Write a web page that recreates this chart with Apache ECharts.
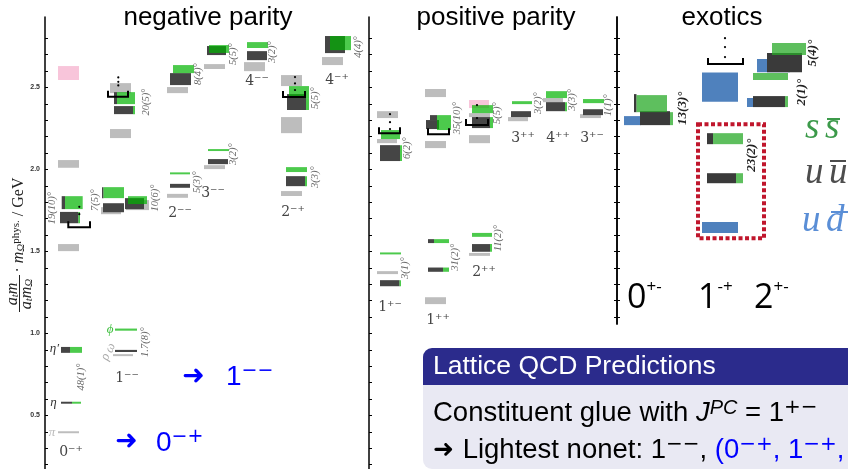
<!DOCTYPE html>
<html><head><meta charset="utf-8">
<script src="https://cdn.jsdelivr.net/npm/echarts@6/dist/echarts.min.js"></script>
<style>html,body{margin:0;padding:0;background:#fff}#c{width:848px;height:469px}</style>
</head><body><div id="c"></div>
<script>
// ---------------- DATA (x in column-slot units, y in GeV) ----------------
const yTickValues = [0.2,0.3,0.4,0.5,0.6,0.7,0.8,0.9,1.0,1.1,1.2,1.3,1.4,1.5,1.6,1.7,1.8,1.9,2.0,2.1,2.2,2.3,2.4,2.5,2.6,2.7,2.8];
const yLabelValues = [0.5,1.0,1.5,2.0,2.5];
const panelTitles = ['negative parity','positive parity','exotics'];

// boxes: [xStart, xEnd, massLow, massHigh]
const expBoxes = [
  [5.8,7.9,2.010,2.057],[5.8,7.9,1.502,1.545],[5.8,7.9,0.392,0.404],[11.3,13.3,0.862,0.874],
  [11.0,13.1,2.465,2.526],[11.0,13.1,2.191,2.246],[10.1,12.1,1.727,1.770],[12.6,14.9,1.752,1.813],
  [16.7,18.8,2.465,2.502],[16.7,18.8,1.827,1.851],[20.4,22.5,2.612,2.642],[20.4,22.5,2.002,2.026],
  [24.4,26.5,2.599,2.654],[28.1,30.2,2.508,2.575],[28.1,30.2,2.221,2.319],[28.1,30.2,1.838,1.868],
  [32.2,34.3,2.636,2.685],
  [37.7,39.8,2.313,2.355],[37.7,39.7,2.160,2.185],[37.7,39.8,1.362,1.380],
  [42.5,44.6,2.441,2.490],[42.5,44.6,2.130,2.173],[42.5,44.6,1.179,1.221],
  [46.9,49.0,2.319,2.343],[46.9,49.0,2.160,2.209],[46.9,49.0,1.473,1.491],
  [50.8,52.8,2.294,2.319],[54.3,56.3,2.410,2.435],[58.0,60.1,2.313,2.337]
];
const pinkBoxes = [[5.8,7.9,2.545,2.630],[46.9,48.9,2.374,2.423]];
const udBoxes = [
  [62.4,64.1,2.270,2.325],[70.2,73.8,2.412,2.591],[75.7,79.0,2.593,2.673],[74.7,78.0,2.380,2.435],[70.2,73.8,1.612,1.679]
];
const uuBoxes = [
  [6.1,7.0,0.882,0.918],[6.1,7.2,0.572,0.584],[11.5,13.7,0.887,0.900],
  [6.17,6.5,1.758,1.837],[6.0,7.83,1.672,1.741],
  [11.4,11.7,2.398,2.471],[11.4,13.3,2.337,2.386],
  [10.2,10.35,1.825,1.892],[10.3,12.4,1.739,1.794],[12.5,14.4,1.758,1.825],
  [17.0,19.1,2.514,2.587],[17.0,19.0,1.888,1.912],
  [20.7,22.6,2.697,2.752],[20.8,22.8,2.032,2.063],
  [24.7,26.7,2.666,2.721],
  [28.7,30.6,2.362,2.459],[28.6,30.5,1.898,1.959],
  [32.5,34.5,2.709,2.813],
  [38.0,40.0,2.051,2.148],[38.0,39.95,1.288,1.325],
  [42.6,43.9,2.246,2.301],[43.0,43.7,2.301,2.331],[42.8,43.4,1.551,1.575],[42.8,44.3,1.376,1.402],
  [47.2,49.0,2.252,2.319],[47.2,49.0,1.498,1.545],
  [51.1,53.1,2.319,2.355],[54.6,56.5,2.355,2.410],[58.3,60.3,2.331,2.367],
  [63.4,63.65,2.349,2.459],[64.0,67.0,2.270,2.355],[76.7,80.2,2.593,2.709],[75.3,78.5,2.380,2.447],
  [70.7,71.3,2.154,2.221],[70.7,73.6,1.916,1.977]
];
const ssBoxes = [
  [7.0,8.2,0.882,0.918],[7.2,8.1,0.572,0.584],[11.5,13.7,1.017,1.030],
  [6.5,8.27,1.758,1.837],[7.83,8.0,1.672,1.741],
  [11.7,13.5,2.398,2.471],[13.3,13.5,2.337,2.386],
  [10.35,12.4,1.825,1.892],[12.8,14.7,1.789,1.837],
  [17.3,19.4,2.587,2.636],[17.0,19.0,1.970,1.982],
  [20.9,22.9,2.710,2.758],[20.8,22.9,2.112,2.124],
  [24.7,26.8,2.740,2.776],
  [28.9,30.9,2.435,2.508],[30.6,30.9,2.362,2.435],[28.6,30.7,1.984,2.014],[30.5,30.7,1.898,1.959],
  [33.0,35.1,2.727,2.813],
  [38.1,40.0,2.185,2.240],[40.0,40.2,2.051,2.148],[38.0,40.1,1.482,1.494],[39.95,40.1,1.288,1.325],
  [43.7,45.1,2.240,2.331],[43.4,44.9,1.551,1.575],[44.3,44.9,1.376,1.402],
  [47.2,49.3,2.343,2.392],[49.0,49.3,2.252,2.319],[47.2,49.2,1.589,1.613],[49.0,49.2,1.498,1.545],
  [51.2,53.2,2.398,2.416],[54.6,56.7,2.435,2.477],[56.5,56.7,2.355,2.410],[58.3,60.4,2.404,2.429],
  [63.65,66.7,2.349,2.453],[67.0,67.3,2.270,2.349],[77.2,80.6,2.697,2.770],[75.3,78.8,2.545,2.587],
  [78.5,78.8,2.380,2.447],[71.3,74.3,2.154,2.221],[73.6,74.3,1.916,1.977]
];
// brackets: [xStart, xEnd, mass]
const brackets = [[6.83,9.0,1.648],[10.8,12.8,2.443],[28.3,30.5,2.441],[37.9,40.0,2.221],[42.8,44.9,2.215],[46.6,48.8,2.270],[70.8,74.3,2.642]];
const bracketDots = [
  [7.93,1.772],[7.93,1.727],
  [11.83,2.561],[11.83,2.534],[11.83,2.512],
  [29.5,2.563],[29.5,2.524],[29.5,2.484],
  [39.0,2.337],[39.0,2.288],[39.0,2.246],
  [47.7,2.392],[47.7,2.313],
  [72.5,2.800],[72.5,2.746],[72.5,2.685]
];
const highlightBox = [[69.8,76.4,1.581,2.276]];
// mixing-angle labels
const angleLabelPos = [
  [8.1,0.734],[14.5,0.947],[5.2,1.764],[9.5,1.813],[15.5,1.825],[14.6,2.410],[19.8,2.581],[19.75,1.923],
  [23.3,2.703],[23.3,2.093],[27.2,2.715],[31.5,2.435],[31.5,1.953],[35.8,2.746],
  [40.7,2.130],[40.5,1.398],[45.7,2.313],[45.5,1.465],[49.7,2.343],[49.8,1.581],[53.8,2.404],[57.2,2.423],[60.8,2.392],
  [68.3,2.373],[80.2,2.471],[81.3,2.709],[75.2,2.087]
];
const angleLabelText = [
  '48(1)°','1.7(8)°','19(10)°','7(5)°','10(6)°','20(5)°','8(4)°','5(3)°',
  '5(5)°','3(2)°','3(2)°','5(5)°','3(3)°','4(4)°',
  '6(2)°','3(1)°','35(10)°','31(2)°','5(5)°','11(2)°','3(2)°','3(3)°','1(1)°',
  '13(3)°','2(1)°','5(4)°','23(2)°'
];
// J^PC column labels
const jpcLabelPos = [[7.1,0.277],[12.7,0.728],[18.0,1.734],[21.3,1.856],[25.7,2.538],[29.3,1.740],[33.7,2.545],
  [39.0,1.160],[43.8,1.081],[48.4,1.374],[52.3,2.191],[55.8,2.191],[59.2,2.191]];
const jpcLabelText = ['0⁻⁺','1⁻⁻','2⁻⁻','3⁻⁻','4⁻⁻','2⁻⁺','4⁻⁺','1⁺⁻','1⁺⁺','2⁺⁺','3⁺⁺','4⁺⁺','3⁺⁻'];
// physical particle names
const particlePos = [[5.45,0.906],[5.35,0.578],[5.2,0.396],[11.0,1.022],[11.05,0.912],[10.55,0.858]];
const particleText = ['η′','η','π','ϕ','ω','ρ'];
const particleColor = ['#333','#333','#bbb','#3fbf3f','#aaa','#aaa'];

// ---------------- CHART ----------------
const Y_MIN = 0.174, Y_MAX = 2.929, Y_MIN_EXO = 1.058;
const panelX = [[4.5,36.9],[36.9,61.7],[61.7,84.8]];
function panelOf(x){ return x < 36.9 ? 0 : (x < 61.7 ? 1 : 2); }
const yAxisOfPanel = [0,1,2];

const chart = echarts.init(document.getElementById('c'), null, {renderer:'canvas'});

function splitByPanel(arr){
  const out=[[],[],[]];
  arr.forEach((d,i)=>out[panelOf(d[0])].push(d.concat([i])));
  return out;
}
const series = [];
function addBoxes(arr, colors){
  splitByPanel(arr).forEach((d,p)=>{
    if(!d.length) return;
    const col = colors[p];
    series.push({type:'custom', xAxisIndex:p, yAxisIndex:yAxisOfPanel[p], data:d, silent:true,
      renderItem:(params,api)=>{
        const a = api.coord([api.value(0), api.value(3)]);
        const b = api.coord([api.value(1), api.value(2)]);
        return {type:'rect', shape:{x:a[0], y:a[1], width:b[0]-a[0], height:Math.max(b[1]-a[1],1.5)}, style:{fill:col}};
      }});
  });
}
addBoxes(expBoxes, ['#bdbdbd','#bdbdbd','#bdbdbd']);
addBoxes(pinkBoxes, ['#f8c5da','#f8c5da','#f8c5da']);
addBoxes(udBoxes, ['#4f81bd','#4f81bd','#4f81bd']);
addBoxes(uuBoxes, ['#454545','#454545','#3a3a3a']);
addBoxes(ssBoxes, ['rgba(0,180,0,0.7)','rgba(0,180,0,0.7)','rgba(40,170,40,0.75)']);

splitByPanel(brackets).forEach((d,p)=>{
  if(!d.length) return;
  series.push({type:'custom', xAxisIndex:p, yAxisIndex:yAxisOfPanel[p], data:d, silent:true,
    renderItem:(params,api)=>{
      const a = api.coord([api.value(0), api.value(2)]);
      const b = api.coord([api.value(1), api.value(2)]);
      const h = 6;
      return {type:'polyline', shape:{points:[[a[0],a[1]-h],[a[0],a[1]],[b[0],b[1]],[b[0],b[1]-h]]}, style:{stroke:'#000', lineWidth:2, fill:null}};
    }});
});
splitByPanel(bracketDots).forEach((d,p)=>{
  if(!d.length) return;
  series.push({type:'custom', xAxisIndex:p, yAxisIndex:yAxisOfPanel[p], data:d, silent:true,
    renderItem:(params,api)=>{
      const a = api.coord([api.value(0), api.value(1)]);
      return {type:'circle', shape:{cx:a[0], cy:a[1], r:1.1}, style:{fill:'#000'}};
    }});
});
series.push({type:'custom', xAxisIndex:2, yAxisIndex:2, data:highlightBox, silent:true,
  renderItem:(params,api)=>{
    const a = api.coord([api.value(0), api.value(3)]);
    const b = api.coord([api.value(1), api.value(2)]);
    return {type:'rect', shape:{x:a[0], y:a[1], width:b[0]-a[0], height:b[1]-a[1]}, style:{fill:null, stroke:'#c0162c', lineWidth:4, lineDash:[4,2.5]}};
  }});

function addTexts(pos, texts, styler){
  const out=[[],[],[]];
  pos.forEach((d,i)=>out[panelOf(d[0])].push([d[0],d[1],i]));
  out.forEach((d,p)=>{
    if(!d.length) return;
    series.push({type:'custom', xAxisIndex:p, yAxisIndex:yAxisOfPanel[p], data:d, silent:true, z:5,
      renderItem:(params,api)=>{
        const i = api.value(2);
        const a = api.coord([api.value(0), api.value(1)]);
        const st = styler(p,i);
        return {type:'text', x:a[0], y:a[1], rotation:st.rotation||0,
          style:Object.assign({text:texts[i], align:'center', verticalAlign:'middle', textAlign:'center', textVerticalAlign:'middle'}, st.style)};
      }});
  });
}
addTexts(angleLabelPos, angleLabelText, (p,i)=>({rotation:Math.PI/2,
  style: p===2 ? {font:'italic bold 13px "Liberation Serif"', fill:'#222'} : {font:'italic 10.5px "Liberation Serif"', fill:'#6a6a6a'}}));
addTexts(jpcLabelPos, jpcLabelText, (p,i)=>({style:{font:'14px "DejaVu Serif"', fill:'#444'}}));
addTexts(particlePos, particleText, (p,i)=>({rotation: (i>=4)? Math.PI/2.6 : 0, style:{font:'italic 13px "Liberation Serif"', fill:particleColor[i]}}));

function yAxisBase(grid, min, ticks, opt){
  return Object.assign({type:'value', gridIndex:grid, min:min, max:Y_MAX, position:'left',
    axisLine:{show:true, onZero:false, lineStyle:{color:'#000', width:1.5}},
    axisTick:{show:true, inside:true, length:3, customValues:ticks, lineStyle:{color:'#000', width:1}},
    axisLabel:{show:false}, splitLine:{show:false}}, opt||{});
}
const option = {
  animation:false,
  backgroundColor:'#fff',
  grid:[
    {left:45, top:17, width:324, height:452},
    {left:369, top:17, width:248, height:452},
    {left:617, top:17, width:231, height:307}
  ],
  xAxis: panelX.map((r,i)=>({type:'value', gridIndex:i, min:r[0], max:r[1], show:false})),
  yAxis:[
    yAxisBase(0, Y_MIN, yTickValues, {axisLabel:{show:true, customValues:yLabelValues, margin:5,
      formatter:v=>v.toFixed(1), fontSize:7, fontWeight:'bold', color:'#333', fontFamily:'Liberation Sans'}}),
    yAxisBase(1, Y_MIN, yTickValues),
    yAxisBase(2, Y_MIN_EXO, yTickValues.filter(v=>v>=1.1)),
    yAxisBase(2, Y_MIN_EXO, yTickValues.filter(v=>v>=1.1), {axisTick:{show:true, inside:false, length:3, customValues:yTickValues.filter(v=>v>=1.1), lineStyle:{color:'#000'}}})
  ],
  series:series,
  graphic:[]
};

const G = option.graphic;
function R(size, family, color, extra){ return Object.assign({fontSize:size, fontFamily:family, fill:color, color:color}, extra||{}); }
// panel titles
[[208,'negative parity'],[496,'positive parity'],[722,'exotics']].forEach((t,i)=>{
  G.push({type:'text', x:t[0], y:18, style:{text:panelTitles[i], font:'26px "Liberation Sans"', fill:'#000', align:'center', verticalAlign:'middle', textAlign:'center', textVerticalAlign:'middle'}});
});
// axis name
const SERIF='Liberation Serif';
G.push({type:'text', x:12.5, y:294, rotation:Math.PI/2, style:{text:'{i|a}{s|t}{i|m}', align:'center', verticalAlign:'middle',
  rich:{i:R(16,SERIF,'#222',{fontStyle:'italic'}), s:R(11,SERIF,'#222',{fontStyle:'italic', verticalAlign:'bottom'})}}});
G.push({type:'line', shape:{x1:19.5, y1:275, x2:19.5, y2:312}, style:{stroke:'#222', lineWidth:1}});
G.push({type:'text', x:26.5, y:294, rotation:Math.PI/2, style:{text:'{i|a}{s|t}{i|m}{s|Ω}', align:'center', verticalAlign:'middle',
  rich:{i:R(16,SERIF,'#222',{fontStyle:'italic'}), s:R(11,SERIF,'#222',{fontStyle:'italic', verticalAlign:'bottom'})}}});
G.push({type:'text', x:19, y:225, rotation:Math.PI/2, style:{text:'{n|· }{i|m}{s|Ω}{p|phys.}{n| / GeV}', align:'center', verticalAlign:'middle',
  rich:{n:R(16,SERIF,'#222'), i:R(16,SERIF,'#222',{fontStyle:'italic'}),
        s:R(11,SERIF,'#222',{fontStyle:'italic', verticalAlign:'bottom'}),
        p:R(11,SERIF,'#222',{verticalAlign:'top'})}}});
// blue annotations
G.push({type:'text', x:182, y:377, style:{text:'➜', font:'bold 27px "DejaVu Sans"', fill:'#0000ff', verticalAlign:'middle'}});
G.push({type:'text', x:226, y:377, style:{text:'{d|1}{s|−−}', verticalAlign:'middle',
  rich:{d:R(28,'Liberation Sans','#0000ff',{lineHeight:30}), s:R(19,'DejaVu Sans','#0000ff',{verticalAlign:'top', lineHeight:14})}}});
G.push({type:'text', x:115, y:442, style:{text:'➜', font:'bold 27px "DejaVu Sans"', fill:'#0000ff', verticalAlign:'middle'}});
G.push({type:'text', x:156, y:443, style:{text:'{d|0}{s|−+}', verticalAlign:'middle',
  rich:{d:R(28,'Liberation Sans','#0000ff',{lineHeight:30}), s:R(19,'DejaVu Sans','#0000ff',{verticalAlign:'top', lineHeight:14})}}});
// exotic JPC big labels
[[627,'0','+-'],[698,'1','-+'],[754,'2','+-']].forEach(t=>{
  G.push({type:'text', x:t[0], y:298, style:{text:'{d|'+t[1]+'}{s|'+t[2]+'}', verticalAlign:'middle',
    rich:{d:R(34,'Open Sans','#000',{lineHeight:38}), s:R(17,'Open Sans','#000',{verticalAlign:'top', lineHeight:18})}}});
});
// flavour legend
const legendGlyphs = [[805,128,'s','#3c9a4a'],[825,128,'s','#3c9a4a'],[805,173,'u','#4d4d4d'],[829,173,'u','#4d4d4d'],[802,221,'u','#5a8ed6'],[826,221,'d','#5a8ed6']];
legendGlyphs.forEach(g=>G.push({type:'text', x:g[0], y:g[1], style:{text:g[2], font:'italic 37px "Liberation Serif"', fill:g[3], verticalAlign:'middle'}}));
[[827,840,119,'#3c9a4a'],[830,846,161,'#4d4d4d'],[831,848,212,'#5a8ed6']].forEach(b=>G.push({type:'line', shape:{x1:b[0],y1:b[2],x2:b[1],y2:b[2]}, style:{stroke:b[3], lineWidth:2}}));
// beamer block
G.push({type:'rect', shape:{x:423, y:348, width:440, height:37, r:[9,0,0,0]}, style:{fill:'#2b2b8c'}});
G.push({type:'rect', shape:{x:423, y:385, width:440, height:84, r:[0,0,0,9]}, style:{fill:'#e9e9f3'}});
G.push({type:'text', x:433, y:367, style:{text:'Lattice QCD Predictions', font:'26.5px "Liberation Sans"', fill:'#fff', verticalAlign:'middle'}});
const SANS='Liberation Sans';
G.push({type:'text', x:433, y:413, style:{text:'{t|Constituent glue with }{i|J}{sp|PC}{t| = 1}{sm|+−}', verticalAlign:'middle',
  rich:{t:R(27.5,SANS,'#000',{lineHeight:30}), i:R(27.5,SANS,'#000',{fontStyle:'italic', lineHeight:30}),
        sp:R(20,SANS,'#000',{fontStyle:'italic', verticalAlign:'top', lineHeight:16}),
        sm:R(20,'DejaVu Sans','#000',{verticalAlign:'top', lineHeight:14})}}});
G.push({type:'text', x:433, y:450, style:{text:'{a|➜ }{t|Lightest nonet: 1}{sm|−−}{t|, }{b|(0}{bs|−+}{b|, 1}{bs|−+}{b|,}', verticalAlign:'middle',
  rich:{a:R(25,'DejaVu Sans','#000',{fontWeight:'bold', lineHeight:30}), t:R(27.5,SANS,'#000',{lineHeight:30}),
        sm:R(20,'DejaVu Sans','#000',{verticalAlign:'top', lineHeight:14}),
        b:R(27.5,SANS,'#0000ff',{lineHeight:30}),
        bs:R(20,'DejaVu Sans','#0000ff',{verticalAlign:'top', lineHeight:14})}}});

chart.setOption(option);
</script></body></html>
